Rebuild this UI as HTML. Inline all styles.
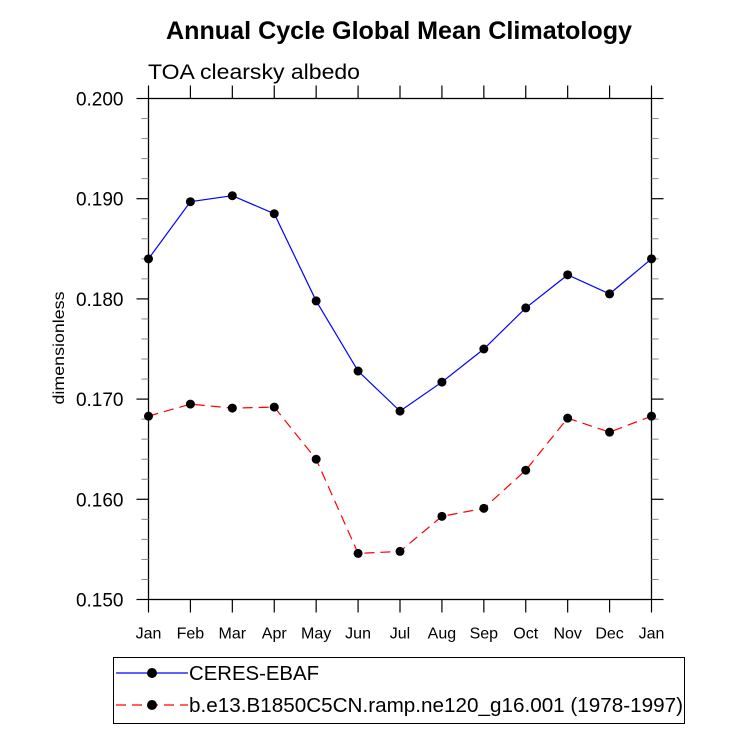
<!DOCTYPE html>
<html><head><meta charset="utf-8"><style>
body{margin:0;background:#fff}
svg text{font-family:"Liberation Sans",sans-serif}
</style></head><body>
<svg width="733" height="730" xmlns="http://www.w3.org/2000/svg">
<rect width="733" height="730" fill="#fff"/>
<text x="399" y="39" font-size="25" font-weight="bold" text-anchor="middle" textLength="466" lengthAdjust="spacingAndGlyphs">Annual Cycle Global Mean Climatology</text>
<text x="148" y="79" font-size="21" textLength="212" lengthAdjust="spacingAndGlyphs">TOA clearsky albedo</text>
<text transform="translate(64,348) rotate(-90)" font-size="16" text-anchor="middle" textLength="113" lengthAdjust="spacingAndGlyphs">dimensionless</text>
<g id="axes"></g>
<g id="series"></g>
<g id="legend">
<rect x="113.5" y="657.5" width="571" height="66" fill="none" stroke="#000" stroke-width="1"/>
<g>
<line x1="116" y1="673" x2="188" y2="673" stroke="#0000ff" stroke-width="1.2"/>
<circle cx="152" cy="673" r="5" fill="#000"/>
<text x="189" y="680" font-size="20" textLength="130" lengthAdjust="spacingAndGlyphs">CERES-EBAF</text></g>
<g>
<line x1="116" y1="705" x2="188" y2="705" stroke="#ff0000" stroke-width="1.2" stroke-dasharray="10,6"/>
<circle cx="152" cy="705" r="5" fill="#000"/>
<text x="189" y="712" font-size="20" textLength="494" lengthAdjust="spacingAndGlyphs">b.e13.B1850C5CN.ramp.ne120_g16.001 (1978-1997)</text></g>
</g>
</svg>
<script>
const months=["Jan","Feb","Mar","Apr","May","Jun","Jul","Aug","Sep","Oct","Nov","Dec","Jan"];
const ceres=[0.1840,0.1897,0.1903,0.1885,0.1798,0.1728,0.1688,0.1717,0.1750,0.1791,0.1824,0.1805,0.1840];
const model=[0.1683,0.1695,0.1691,0.1692,0.1640,0.1546,0.1548,0.1583,0.1591,0.1629,0.1681,0.1667,0.1683];
const yTicks=[0.150,0.160,0.170,0.180,0.190,0.200];
const yLabels=["0.150","0.160","0.170","0.180","0.190","0.200"];
const L=148.5,R=651.5,T=98.5,B=599.5,ymin=0.15,ymax=0.2;
const NS="http://www.w3.org/2000/svg";
const xs=i=>L+i*(R-L)/(months.length-1);
const ys=v=>B-(v-ymin)/(ymax-ymin)*(B-T);
function mk(tag,attrs,parent){const e=document.createElementNS(NS,tag);for(const k in attrs)e.setAttribute(k,attrs[k]);parent.appendChild(e);return e;}
const ax=document.getElementById('axes');
const frame=mk('rect',{x:L,y:T,width:R-L,height:B-T,fill:'none',stroke:'#000','stroke-width':1.3},ax);


months.forEach((m,i)=>{const x=xs(i);
mk('line',{x1:x,y1:B,x2:x,y2:B+13,stroke:'#000','stroke-width':1.2},ax);
mk('line',{x1:x,y1:T,x2:x,y2:T-13,stroke:'#000','stroke-width':1.2},ax);
const t=mk('text',{x:x,y:B+39,'font-size':16,'text-anchor':'middle'},ax);t.textContent=m;

});
yTicks.forEach((v,i)=>{const y=ys(v);
mk('line',{x1:L,y1:y,x2:L-12,y2:y,stroke:'#000','stroke-width':1.2},ax);
mk('line',{x1:R,y1:y,x2:R+12,y2:y,stroke:'#000','stroke-width':1.2},ax);
const t=mk('text',{x:L-25,y:y+7,'font-size':19,'text-anchor':'end'},ax);t.textContent=yLabels[i];


if(i<yTicks.length-1){for(let k=1;k<5;k++){const yy=ys(v+k*0.002);
mk('line',{x1:L,y1:yy,x2:L-7,y2:yy,stroke:'#888','stroke-width':1},ax);
mk('line',{x1:R,y1:yy,x2:R+7,y2:yy,stroke:'#888','stroke-width':1},ax);}}});
const sg=document.getElementById('series');
function series(vals,color,dash,name){
const g=mk('g',{},sg);


mk('polyline',{points:vals.map((v,i)=>xs(i)+','+ys(v)).join(' '),fill:'none',stroke:color,'stroke-width':1.2,'stroke-dasharray':dash},g);
vals.forEach((v,i)=>{const c=mk('circle',{cx:xs(i),cy:ys(v),r:4.5,fill:'#000'},g);

});}
series(ceres,'#0000ff','none','ceres-line');
series(model,'#ff0000','10,6','model-line');
</script>
</body></html>
